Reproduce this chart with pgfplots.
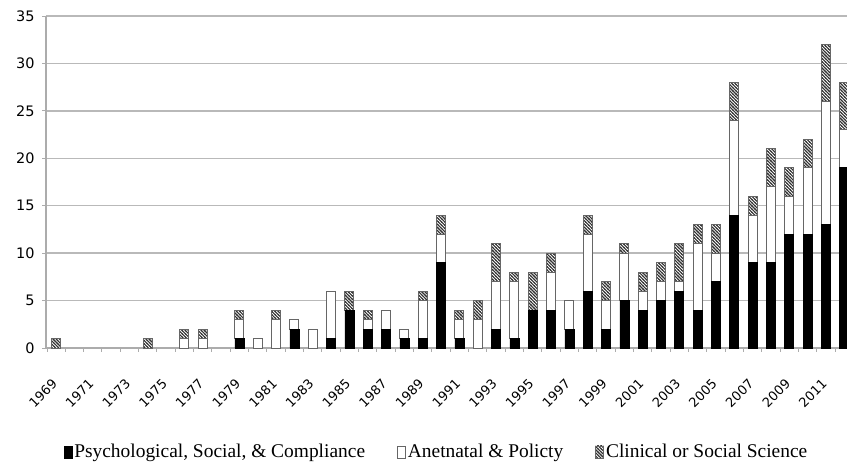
\documentclass[border=0pt]{standalone}
\usepackage{pgfplots}
\pgfplotsset{compat=1.18}
\usepackage{pgfplotstable}
\usepackage{fontspec}
\setmainfont{Liberation Serif}
\newfontfamily\tickfont{DejaVu Sans}
\usetikzlibrary{patterns}

\pgfdeclarepatternformonly{densehatch}{\pgfpoint{-1bp}{-1bp}}{\pgfpoint{4bp}{4bp}}{\pgfpoint{3.2bp}{3.2bp}}{%
  \pgfsetlinewidth{1.1bp}
  \pgfpathmoveto{\pgfpoint{-0.5bp}{3.7bp}}
  \pgfpathlineto{\pgfpoint{3.7bp}{-0.5bp}}
  \pgfusepath{stroke}
}

\pgfplotstableread{
year P A C
1969 0 0 1
1970 0 0 0
1971 0 0 0
1972 0 0 0
1973 0 0 0
1974 0 0 1
1975 0 0 0
1976 0 1 1
1977 0 1 1
1978 0 0 0
1979 1 2 1
1980 0 1 0
1981 0 3 1
1982 2 1 0
1983 0 2 0
1984 1 5 0
1985 4 0 2
1986 2 1 1
1987 2 2 0
1988 1 1 0
1989 1 4 1
1990 9 3 2
1991 1 2 1
1992 0 3 2
1993 2 5 4
1994 1 6 1
1995 4 0 4
1996 4 4 2
1997 2 3 0
1998 6 6 2
1999 2 3 2
2000 5 5 1
2001 4 2 2
2002 5 2 2
2003 6 1 4
2004 4 7 2
2005 7 3 3
2006 14 10 4
2007 9 5 2
2008 9 8 4
2009 12 4 3
2010 12 7 3
2011 13 13 6
2012 19 4 5
}\datatable

\begin{document}
\begin{tikzpicture}
\useasboundingbox (0,0) rectangle (847bp,462bp);
\begin{axis}[
  at={(46bp,114bp)}, anchor=south west,
  scale only axis, width=801bp, height=332bp,
  xmin=1968.45, xmax=2012.15, ymin=0, ymax=35,
  ybar stacked, bar width=9bp,
  axis x line*=bottom, axis y line*=left,
  axis line style={draw=gray!65, line width=1.3bp},
  ytick={0,5,...,35},
  ymajorgrids, grid style={draw=gray!55, line width=1.4bp},
  xtick={1969,1971,...,2011},
  minor xtick={1968.5,1969.5,...,2012.5},
  xtick style={draw=none},
  minor x tick style={draw=gray!65, line width=0.8bp},
  ytick style={draw=gray!65, line width=0.8bp},
  tick align=outside,
  major tick length=4bp, minor tick length=4bp,
  /pgf/number format/assume math mode=true,
  /pgf/number format/1000 sep={},
  y tick label style={font=\tickfont\fontsize{14.5}{16}\selectfont, xshift=-4bp},
  x tick label style={font=\tickfont\fontsize{13}{14}\selectfont, xshift=-5bp, yshift=-26bp, rotate=45, anchor=north east, inner sep=0pt},
  legend style={draw=none, fill=none, at={(0.4875,-0.313)}, anchor=center,
    font=\fontsize{19.5}{21}\selectfont, legend columns=3,
    /tikz/every even column/.append style={column sep=30bp}},
  legend image code/.code={\draw[#1] (0bp,-6bp) rectangle (8bp,6bp);},
  clip=false,
]
\addplot+[fill=black, draw=black, line width=0.6bp] table[x=year, y=P] {\datatable};
\addlegendentry{Psychological, Social, \& Compliance}
\addplot+[fill=white, draw=gray!80!black, line width=0.8bp] table[x=year, y=A] {\datatable};
\addlegendentry{Anetnatal \& Policty}
\addplot+[fill=white, draw=gray!80!black, line width=0.8bp, postaction={pattern=densehatch, pattern color=black!80}] table[x=year, y=C] {\datatable};
\addlegendentry{Clinical or Social Science}
\end{axis}
\end{tikzpicture}
\end{document}
